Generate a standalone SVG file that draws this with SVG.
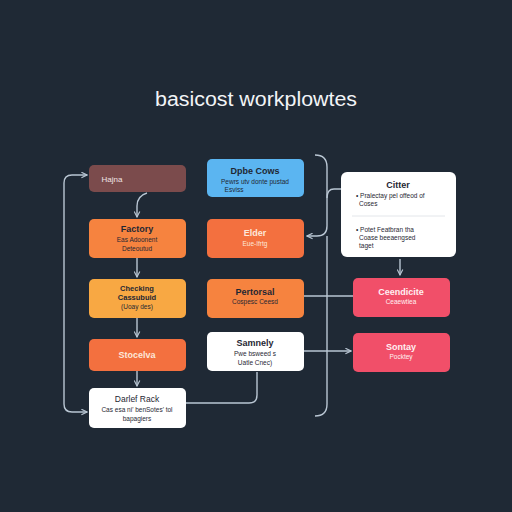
<svg xmlns="http://www.w3.org/2000/svg" width="512" height="512" viewBox="0 0 512 512">
<defs>
<marker id="ah" viewBox="0 0 10 10" refX="9" refY="5" markerWidth="7" markerHeight="7" orient="auto-start-reverse" markerUnits="userSpaceOnUse">
<path d="M1,1 L9,5 L1,9" fill="none" stroke="#b9c6d3" stroke-width="1.6"/>
</marker>
<style>
.t{font-family:"Liberation Sans",Arial,sans-serif;text-anchor:middle}
.h{font-size:9px;font-weight:bold}
.s{font-size:6.5px}
.w{fill:#ffffff}
.d{fill:#1f2733}
.c{fill:none;stroke:#b9c6d3;stroke-width:1.4}
</style>
</defs>
<rect width="512" height="512" fill="#1f2935"/>
<text x="256" y="106" class="t" font-size="20" fill="#f2f4f7" textLength="202" lengthAdjust="spacingAndGlyphs">basicost workplowtes</text>

<g id="connectors">
<path class="c" d="M87,175 H72 Q64,175 64,183 V404 Q64,412 72,412 H87" marker-start="url(#ah)" marker-end="url(#ah)"/>
<path class="c" d="M147,193 Q137,196 137,206 V217" marker-end="url(#ah)"/>
<path class="c" d="M137,258 V277" marker-end="url(#ah)"/>
<path class="c" d="M137,318 V337" marker-end="url(#ah)"/>
<path class="c" d="M137,371 V386" marker-end="url(#ah)"/>
<path class="c" d="M186,403 H249 Q257,403 257,395 V372"/>
<path class="c" d="M315,155 Q327,155 327,167 V226 Q327,236 317,236 H307" marker-end="url(#ah)"/>
<path class="c" d="M341,189 H334 Q327,189 327,198"/>
<path class="c" d="M327,236 V404 Q327,416 315,416"/>
<path class="c" d="M304,296 H353"/>
<path class="c" d="M304,351 H351" marker-end="url(#ah)"/>
<path class="c" d="M400,259 V275" marker-end="url(#ah)"/>
</g>

<g id="hajna">
<rect x="89" y="165" width="97" height="27" rx="5" fill="#7b4b4c"/>
<text x="112" y="182" class="t s" font-size="8" fill="#f0e4e4" style="font-size:8px">Hajna</text>
</g>
<g id="factory">
<rect x="89" y="219" width="97" height="39" rx="5" fill="#f6833f"/>
<text x="137" y="232" class="t h d">Factory</text>
<text x="137" y="242" class="t s d">Eas Adoonent</text>
<text x="137" y="251" class="t s d">Deteoutud</text>
</g>
<g id="checking">
<rect x="89" y="279" width="97" height="39" rx="5" fill="#f8a843"/>
<text x="137" y="291" class="t s d" style="font-weight:bold;font-size:7.5px">Checking</text>
<text x="137" y="300" class="t s d" style="font-weight:bold;font-size:7.5px">Cassubuid</text>
<text x="137" y="309" class="t s d">(Uoay des)</text>
</g>
<g id="stocelva">
<rect x="89" y="339" width="97" height="32" rx="5" fill="#f3703f"/>
<text x="137" y="358" class="t h" fill="#fde7da">Stocelva</text>
</g>
<g id="darlef">
<rect x="89" y="388" width="97" height="40" rx="5" fill="#ffffff"/>
<text x="137" y="402" class="t h d" style="font-weight:normal;font-size:8.5px">Darlef Rack</text>
<text x="137" y="412" class="t s d">Cas esa ni' benSotes' tol</text>
<text x="137" y="421" class="t s d">bapagiers</text>
</g>

<g id="dpbe">
<rect x="207" y="159" width="97" height="38" rx="5" fill="#5bb5f1"/>
<text x="255" y="174" class="t h d">Dpbe Cows</text>
<text x="255" y="184" class="t s d">Pewrs utv donte pustad</text>
<text x="234" y="192" class="t s d">Esviss</text>
</g>
<g id="elder">
<rect x="207" y="219" width="97" height="39" rx="5" fill="#f3703f"/>
<text x="255" y="236" class="t h" fill="#fde7da">Elder</text>
<text x="255" y="246" class="t s" fill="#fde7da">Eue-Ifrtg</text>
</g>
<g id="pertorsal">
<rect x="207" y="279" width="97" height="39" rx="5" fill="#f6833f"/>
<text x="255" y="295" class="t h d">Pertorsal</text>
<text x="255" y="304" class="t s d">Cospesc Ceesd</text>
</g>
<g id="samnely">
<rect x="207" y="332" width="97" height="39" rx="5" fill="#ffffff"/>
<text x="255" y="346" class="t h d">Samnely</text>
<text x="255" y="356" class="t s d">Pwe bsweed s</text>
<text x="255" y="365" class="t s d">Uatle Cnec)</text>
</g>

<g id="citter">
<rect x="341" y="172" width="115" height="85" rx="6" fill="#ffffff"/>
<text x="398" y="188" class="t h d">Citter</text>
<text x="356" y="198" class="s d" style="font-family:'Liberation Sans',Arial,sans-serif">• Pralectay pel offeod of</text>
<text x="359" y="206" class="s d" style="font-family:'Liberation Sans',Arial,sans-serif">Coses</text>
<line x1="352" y1="216" x2="445" y2="216" stroke="#e3e6ea" stroke-width="1"/>
<text x="356" y="232" class="s d" style="font-family:'Liberation Sans',Arial,sans-serif">• Potet Featbran tha</text>
<text x="359" y="240" class="s d" style="font-family:'Liberation Sans',Arial,sans-serif">Coase beeaengsed</text>
<text x="359" y="248" class="s d" style="font-family:'Liberation Sans',Arial,sans-serif">taget</text>
</g>
<g id="ceendicite">
<rect x="353" y="278" width="97" height="39" rx="5" fill="#f14f69"/>
<text x="401" y="295" class="t h" fill="#fff0f2">Ceendicite</text>
<text x="401" y="304" class="t s" fill="#fff0f2">Ceaewtiea</text>
</g>
<g id="sontay">
<rect x="353" y="333" width="97" height="39" rx="5" fill="#f14f69"/>
<text x="401" y="350" class="t h" fill="#fff0f2">Sontay</text>
<text x="401" y="359" class="t s" fill="#fff0f2">Pocktey</text>
</g>
</svg>
